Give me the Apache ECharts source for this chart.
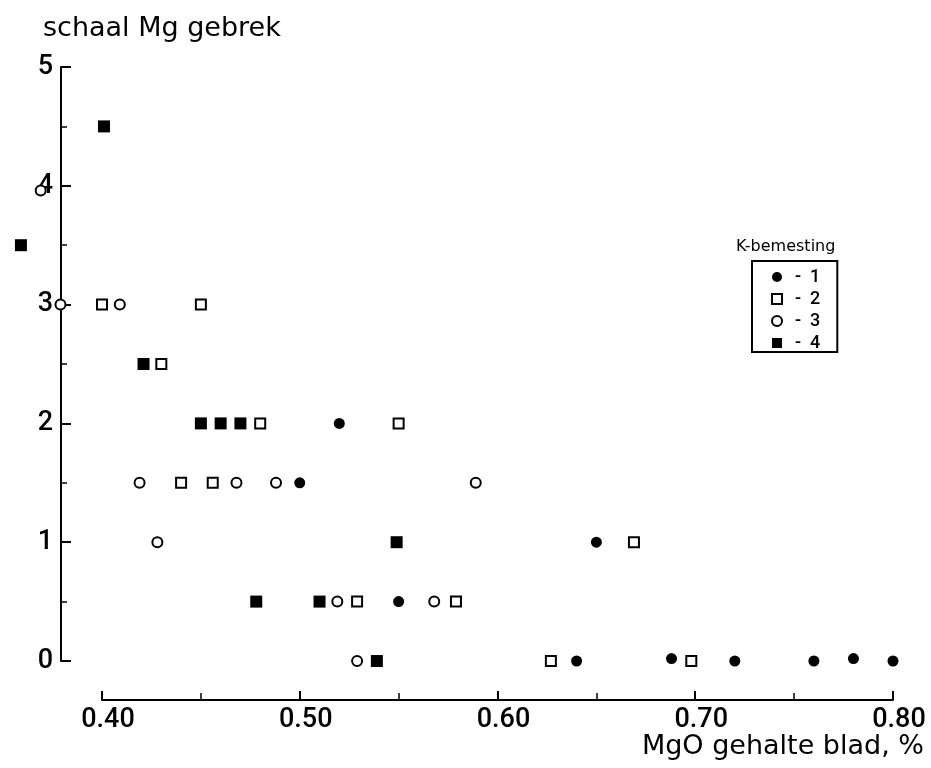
<!DOCTYPE html>
<html>
<head>
<meta charset="utf-8">
<script src="https://cdn.jsdelivr.net/npm/echarts@6/dist/echarts.min.js"></script>
<style>
  html, body { margin: 0; padding: 0; background: #fff; }
  #chart { width: 931px; height: 768px; }
</style>
</head>
<body>
<div id="chart"></div>
<script>
// MgO content of the leaf (%) against Mg-deficiency score, per K fertilisation level
const xTicks = [0.40, 0.50, 0.60, 0.70, 0.80];
const yTicks = [0, 1, 2, 3, 4, 5];

const k1 = [ // filled circles
  [0.52, 2.0], [0.50, 1.5], [0.55, 0.5], [0.65, 1.0], [0.64, 0],
  [0.688, 0.02], [0.72, 0], [0.76, 0], [0.78, 0.02], [0.80, 0]
];
const k2 = [ // open squares
  [0.40, 3.0], [0.45, 3.0], [0.43, 2.5], [0.48, 2.0], [0.55, 2.0],
  [0.44, 1.5], [0.456, 1.5], [0.529, 0.5], [0.579, 0.5], [0.669, 1.0],
  [0.627, 0], [0.698, 0]
];
const k3 = [ // open circles
  [0.379, 3.0], [0.409, 3.0], [0.369, 3.96], [0.419, 1.5], [0.468, 1.5],
  [0.488, 1.5], [0.428, 1.0], [0.589, 1.5], [0.519, 0.5], [0.568, 0.5],
  [0.529, 0]
];
const k4 = [ // filled squares
  [0.401, 4.5], [0.359, 3.5], [0.421, 2.5], [0.45, 2.0], [0.46, 2.0],
  [0.47, 2.0], [0.549, 1.0], [0.478, 0.5], [0.51, 0.5], [0.539, 0]
];

const NUM_FONT = 'Roboto';
const WORD_FONT = 'DejaVu Sans';
const INK = '#000';

const chart = echarts.init(document.getElementById('chart'));

function filledStyle() {
  return { color: INK, opacity: 1 };
}
function openStyle() {
  return { color: '#fff', borderColor: INK, borderWidth: 2, opacity: 1 };
}

chart.setOption({
  animation: false,
  backgroundColor: '#fff',
  textStyle: { fontFamily: WORD_FONT, color: INK },
  title: [
    {
      text: 'schaal Mg gebrek',
      left: 38, top: 10,
      textStyle: { fontFamily: WORD_FONT, fontSize: 27, fontWeight: 'normal', color: INK }
    },
    {
      text: 'MgO gehalte blad, %',
      right: 2, top: 728,
      textStyle: { fontFamily: WORD_FONT, fontSize: 27, fontWeight: 'normal', color: INK }
    },
    {
      text: 'K-bemesting',
      left: 731, top: 234,
      textStyle: { fontFamily: WORD_FONT, fontSize: 16, fontWeight: 'normal', color: INK }
    }
  ],
  grid: { left: 102, right: 38, top: 67, bottom: 107, containLabel: false },
  xAxis: {
    type: 'value',
    min: xTicks[0], max: xTicks[xTicks.length - 1], interval: 0.1,
    offset: 39,
    axisLine: { show: true, onZero: false, lineStyle: { color: INK, width: 2 } },
    axisTick: { show: true, inside: true, length: 9, lineStyle: { color: INK, width: 2 } },
    minorTick: { show: true, splitNumber: 2, length: 7, lineStyle: { color: INK, width: 1.5 } },
    splitLine: { show: false },
    axisLabel: {
      margin: 7, fontFamily: NUM_FONT, fontSize: 27, fontWeight: 500, color: INK,
      padding: [0, 0, 0, 12],
      formatter: v => v.toFixed(2)
    }
  },
  yAxis: {
    type: 'value',
    min: yTicks[0], max: yTicks[yTicks.length - 1], interval: 1,
    offset: 41,
    axisLine: { show: true, onZero: false, lineStyle: { color: INK, width: 2 } },
    axisTick: { show: true, inside: true, length: 10, lineStyle: { color: INK, width: 2 } },
    minorTick: { show: true, splitNumber: 2, length: 6, lineStyle: { color: INK, width: 1.5 } },
    splitLine: { show: false },
    axisLabel: { margin: 8, fontFamily: NUM_FONT, fontSize: 27, fontWeight: 500, color: INK }
  },
  legend: {
    orient: 'vertical',
    left: 752, top: 261,
    padding: [7, 17, 0, 19],
    itemWidth: 10, itemHeight: 10,
    itemGap: 4,
    borderColor: INK, borderWidth: 2,
    selectedMode: false,
    data: ['1', '2', '3', '4'],
    formatter: name => '-  ' + name,
    textStyle: {
      fontFamily: NUM_FONT, fontSize: 18, fontWeight: 500, color: INK,
      padding: [0, 0, 0, 8]
    }
  },
  series: [
    {
      name: '1', type: 'scatter', data: k1, clip: false,
      symbol: 'circle', symbolSize: 11,
      itemStyle: filledStyle()
    },
    {
      name: '2', type: 'scatter', data: k2, clip: false,
      symbol: 'rect', symbolSize: 10,
      itemStyle: openStyle()
    },
    {
      name: '3', type: 'scatter', data: k3, clip: false,
      symbol: 'circle', symbolSize: 10,
      itemStyle: openStyle()
    },
    {
      name: '4', type: 'scatter', data: k4, clip: false,
      symbol: 'rect', symbolSize: 12,
      itemStyle: filledStyle()
    }
  ]
});
</script>
</body>
</html>
